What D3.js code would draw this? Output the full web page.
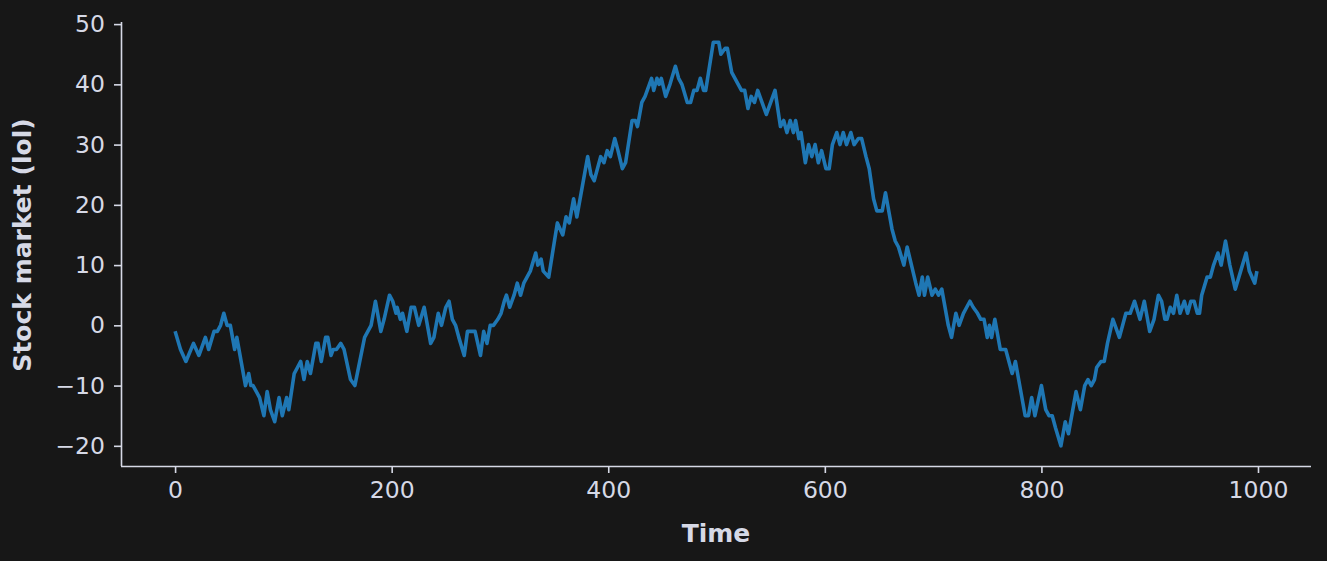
<!DOCTYPE html>
<html><head><meta charset="utf-8">
<script src="https://cdn.jsdelivr.net/npm/d3@7"></script>
<style>
html,body{margin:0;padding:0;background:#171717;}
svg{display:block;}
</style></head>
<body>
<script>
const times = [0,5,10,17,22,28,31,36,39,42,45,48,51,55,57,65,68,70,72,78,82,85,88,92,96,99,103,105,110,113,116,119,122,125,130,132,135,139,141,144,146,149,153,156,162,166,175,178,181,185,190,193,198,201,204,205,208,210,214,218,221,225,230,236,239,243,246,250,253,256,259,262,267,270,277,282,285,288,291,294,298,301,304,306,309,313,316,319,322,325,328,333,335,338,340,345,353,358,361,364,368,371,381,384,387,390,393,396,399,402,406,409,413,416,422,425,427,431,434,440,442,445,447,449,453,457,462,465,468,473,476,479,482,485,488,490,497,502,504,508,510,514,517,520,523,526,529,532,535,538,542,546,550,554,559,562,565,568,571,573,576,578,582,585,588,591,594,597,601,604,607,611,614,617,620,624,627,631,634,638,641,645,648,653,656,662,665,668,673,676,684,687,690,692,695,699,702,705,708,714,717,721,724,728,731,734,737,741,744,747,750,752,754,757,762,767,773,776,785,788,791,794,800,804,807,810,813,818,822,825,829,832,836,840,843,846,849,851,855,858,861,866,868,872,878,882,886,891,895,900,904,908,911,914,916,919,922,925,928,932,935,938,941,944,946,948,953,956,959,963,966,970,974,979,984,989,992,997,999];
const values = [-1,-4,-6,-3,-5,-2,-4,-1,-1,0,2,0,0,-4,-2,-10,-8,-10,-10,-12,-15,-11,-14,-16,-12,-15,-12,-14,-8,-7,-6,-9,-6,-8,-3,-3,-6,-2,-2,-5,-4,-4,-3,-4,-9,-10,-2,-1,0,4,-1,1,5,4,2,3,1,2,-1,3,3,0,3,-3,-2,2,0,3,4,1,0,-2,-5,-1,-1,-5,-1,-3,0,0,1,2,4,5,3,5,7,5,7,8,9,12,10,11,9,8,17,15,18,17,21,18,28,25,24,26,28,27,29,28,31,29,26,27,34,34,33,37,38,41,39,41,40,41,38,40,43,41,40,37,37,39,39,41,39,39,47,47,45,46,46,42,41,40,39,39,36,38,37,39,37,35,37,39,33,34,32,34,32,34,31,32,27,30,28,30,27,29,26,26,30,32,30,32,30,32,30,31,31,28,26,21,19,19,22,16,14,13,10,13,7,5,8,5,8,5,6,5,6,0,-2,2,0,2,3,4,3,2,1,1,-2,0,-2,1,-4,-4,-8,-6,-15,-15,-12,-15,-10,-14,-15,-15,-17,-20,-16,-18,-14,-11,-14,-10,-9,-10,-9,-7,-6,-6,-3,1,0,-2,2,2,4,1,4,-1,1,5,4,1,1,3,2,5,2,4,2,4,4,2,2,5,8,8,10,12,10,14,10,6,9,12,9,7,9];
const xTicks = [0,200,400,600,800,1000];
const yTicks = [-20,-10,0,10,20,30,40,50];
const xLabel = "Time";
const yLabel = "Stock market (lol)";

const W = 1327, H = 561;
const fg = "#d6d9e6";
const svg = d3.select("body").append("svg").attr("width", W).attr("height", H);
svg.append("rect").attr("width", W).attr("height", H).attr("fill", "#171717");

const x = d3.scaleLinear().domain([-49.95, 1048.95]).range([121, 1311]);
const y = d3.scaleLinear().domain([-23.35, 50.35]).range([466, 22]);

const data = times.map((t, i) => ({t, v: values[i]}));

const fmt = d => (d < 0 ? "\u2212" + Math.abs(d) : String(d));

const xAxis = svg.append("g").attr("transform", "translate(0,466)")
  .call(d3.axisBottom(x).tickValues(xTicks).tickSize(7).tickPadding(8).tickFormat(fmt));
const yAxis = svg.append("g").attr("transform", "translate(121,0)")
  .call(d3.axisLeft(y).tickValues(yTicks).tickSize(7).tickPadding(9).tickFormat(fmt));

[xAxis, yAxis].forEach(g => {
  g.select(".domain").attr("stroke", fg).attr("stroke-width", 1.6);
  g.selectAll(".tick line").attr("stroke", fg).attr("stroke-width", 1.6);
  g.selectAll(".tick text").attr("fill", fg)
    .style("font-family", "DejaVu Sans").style("font-size", "23.5px");
});
xAxis.select(".domain").attr("d", "M121,0.5H1311");
yAxis.select(".domain").attr("d", "M0.5,22V466");

svg.append("path").datum(data)
  .attr("fill", "none").attr("stroke", "#1f77b4").attr("stroke-width", 3.6)
  .attr("stroke-linejoin", "round").attr("stroke-linecap", "butt")
  .attr("d", d3.line().x(d => x(d.t)).y(d => y(d.v)));

svg.append("text").attr("x", 716).attr("y", 542).attr("text-anchor", "middle")
  .attr("fill", fg).style("font-family", "DejaVu Sans").style("font-weight", "bold")
  .style("font-size", "25px").text(xLabel);
svg.append("text").attr("transform", "translate(31,245) rotate(-90)").attr("text-anchor", "middle")
  .attr("fill", fg).style("font-family", "DejaVu Sans").style("font-weight", "bold")
  .style("font-size", "25px").text(yLabel);
</script>
</body></html>
